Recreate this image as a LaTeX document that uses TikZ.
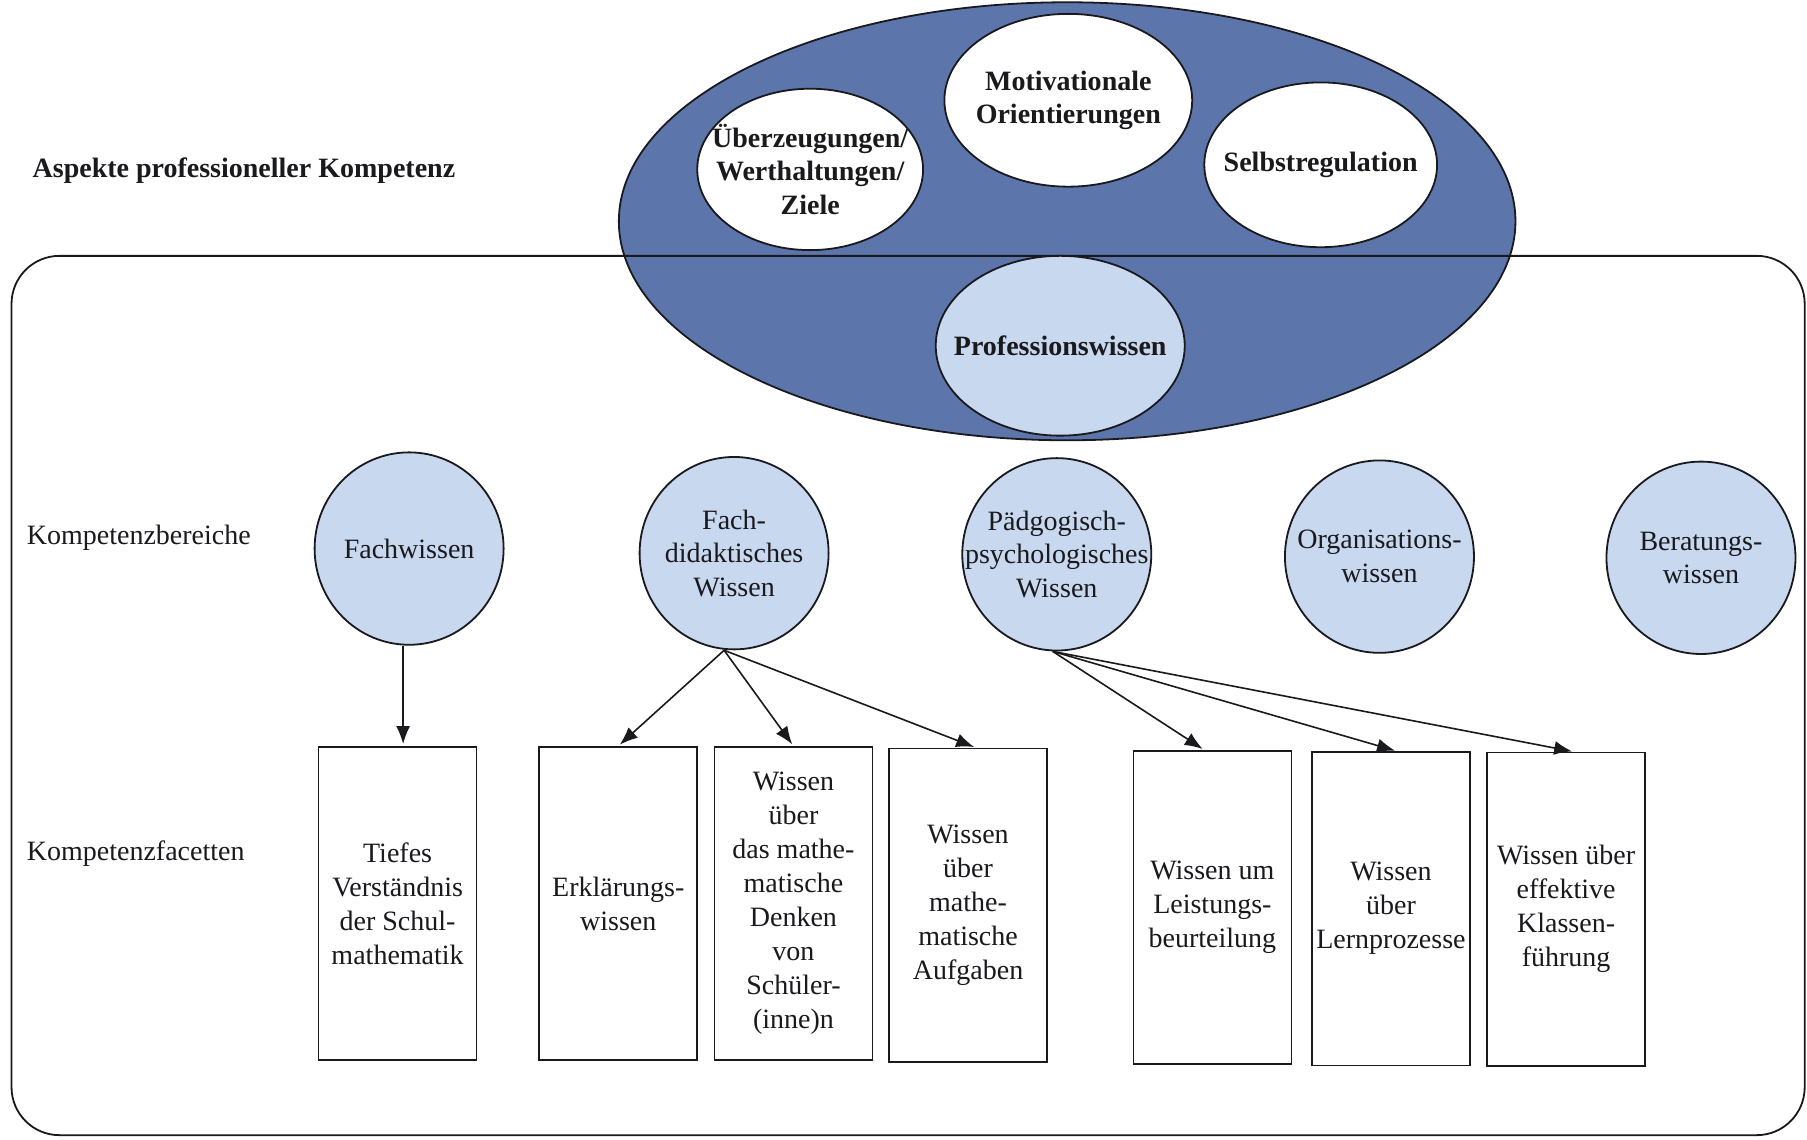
\documentclass[tikz,border=0pt]{standalone}
\usepackage{fontspec}
\setmainfont{Liberation Serif}
\usetikzlibrary{shapes.geometric,arrows.meta}
\definecolor{bigblue}{RGB}{92,118,172}
\definecolor{lightblue}{RGB}{200,216,238}
\definecolor{ink}{RGB}{25,25,30}
\begin{document}
\begin{tikzpicture}[x=0.5762pt,y=-0.5762pt,
  every node/.style={font=\fontsize{14}{16.8}\selectfont, text=ink},
  oval/.style={ellipse, draw=ink, line width=0.9pt, align=center, inner xsep=-25pt, inner ysep=-5pt},
  whiteoval/.style={oval, fill=white, font=\bfseries\fontsize{14}{16.8}\selectfont},
  lowoval/.style={oval, fill=lightblue, minimum width=94.5pt, minimum height=96.2pt},
  facet/.style={draw=ink, line width=0.8pt, fill=white, minimum width=79pt, minimum height=156.7pt, align=center, inner sep=1pt, font=\fontsize{14}{17}\selectfont},
  rowlabel/.style={anchor=west, inner sep=0pt},
  arr/.style={-{Latex[length=9pt,width=7pt]}, line width=0.8pt, draw=ink, shorten >=1pt}
]
\useasboundingbox (0,0) rectangle (1568,989);
\fill[white] (0,0) rectangle (1568,989);

% big ellipse
\node[ellipse, draw=ink, line width=0.9pt, fill=bigblue, minimum width=448.3pt, minimum height=219pt, inner sep=0pt] (aspekte) at (926,192) {};

% frame
\draw[ink, line width=0.9pt, rounded corners=24pt] (10,222) rectangle (1566,985);

% upper ovals
\node[whiteoval, minimum width=112.9pt, minimum height=80.7pt] (ueber) at (703,147) {Überzeugungen/\\Werthaltungen/\\Ziele};
\node[whiteoval, minimum width=123.9pt, minimum height=86.4pt] (motiv) at (927,87) {Motivationale\\Orientierungen};
\node[whiteoval, minimum width=116.4pt, minimum height=82.4pt] (selbst) at (1146,143) {Selbstregulation};
\node[oval, fill=lightblue, font=\bfseries\fontsize{14}{16.8}\selectfont, minimum width=124.5pt, minimum height=89.9pt] (prof) at (920,300) {Professionswissen};

% labels
\node[rowlabel, font=\bfseries\fontsize{14}{16.8}\selectfont] (titel) at (28,148) {Aspekte professioneller Kompetenz};
\node[rowlabel] (bereiche) at (23,467) {Kompetenzbereiche};
\node[rowlabel] (facetten) at (23,741) {Kompetenzfacetten};

% Kompetenzbereiche
\node[lowoval] (fw) at (355,476) {Fachwissen};
\node[lowoval] (fd) at (637,480) {Fach-\\didaktisches\\Wissen};
\node[lowoval] (pp) at (917,481) {Pädgogisch-\\psychologisches\\Wissen};
\node[lowoval] (ow) at (1197,483) {Organisations-\\wissen};
\node[lowoval] (bw) at (1476,484) {Beratungs-\\wissen};

% Kompetenzfacetten
\node[facet] (b1) at (345,784) {Tiefes\\Verständnis\\der Schul-\\mathematik};
\node[facet] (b2) at (536.5,784) {Erklärungs-\\wissen};
\node[facet] (b3) at (688.5,784) {Wissen\\über\\das mathe-\\matische\\Denken\\von\\Schüler-\\(inne)n};
\node[facet] (b4) at (840,785.5) {Wissen\\über\\mathe-\\matische\\Aufgaben};
\node[facet] (b5) at (1052,787.5) {Wissen um\\Leistungs-\\beurteilung};
\node[facet] (b6) at (1207,788.5) {Wissen\\über\\Lernprozesse};
\node[facet] (b7) at (1359,789) {Wissen über\\effektive\\Klassen-\\führung};

% arrows
\draw[arr] ([xshift=-3pt]fw.south) -- ([xshift=-3pt]fw.south |- b1.north);
\draw[arr] ([xshift=-5pt]fd.south) -- (b2.north);
\draw[arr] ([xshift=-5pt]fd.south) -- (b3.north);
\draw[arr] ([xshift=-5pt]fd.south) -- ([xshift=4pt]b4.north);
\draw[arr] ([xshift=-2pt]pp.south) -- ([xshift=-4pt]b5.north);
\draw[arr] ([xshift=-2pt]pp.south) -- ([xshift=3pt]b6.north);
\draw[arr] ([xshift=-2pt]pp.south) -- ([xshift=4pt]b7.north);
\end{tikzpicture}
\end{document}
